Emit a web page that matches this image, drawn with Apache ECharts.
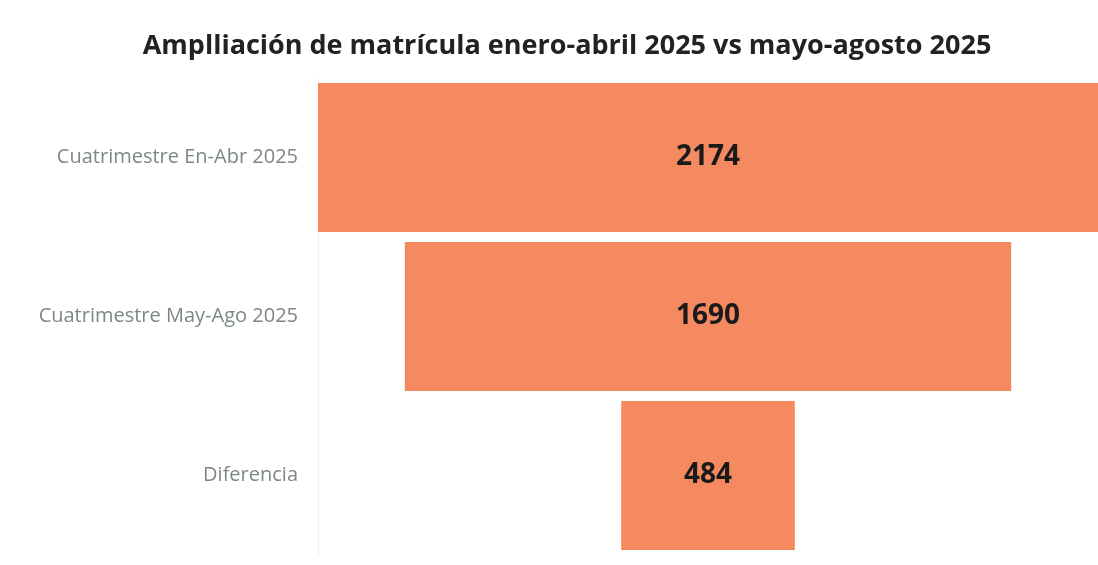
<!DOCTYPE html>
<html lang="es">
<head>
    <meta charset="UTF-8">
    <title>Ampliación de matrícula</title>
    <script src="https://cdn.jsdelivr.net/npm/echarts@6/dist/echarts.min.js"></script>
    <style>
        html, body { margin: 0; padding: 0; background: #fff; }
        #chart { width: 1098px; height: 565px; }
    </style>
</head>
<body>
<div id="chart"></div>
<script>
    // datos
    var categorias = ['Cuatrimestre En-Abr 2025', 'Cuatrimestre May-Ago 2025', 'Diferencia'];
    var valores = [2174, 1690, 484];

    var maximo = Math.max.apply(null, valores);
    // desplazamiento invisible para centrar cada barra (embudo)
    var relleno = valores.map(function (v) { return (maximo - v) / 2; });

    var myChart = echarts.init(document.getElementById('chart'));
    myChart.setOption({
        animation: false,
        title: {
            text: 'Amplliación de matrícula enero-abril 2025 vs mayo-agosto 2025',
            left: 562,
            textAlign: 'center',
            top: 28,
            textStyle: {
                fontFamily: 'Open Sans',
                fontWeight: 'bold',
                fontSize: 27,
                color: '#222'
            }
        },
        grid: {left: 318, right: 0, top: 78, bottom: 10},
        xAxis: {
            type: 'value',
            min: 0,
            max: maximo,
            show: false
        },
        yAxis: {
            type: 'category',
            inverse: true,
            data: categorias,
            axisLine: {show: true, lineStyle: {color: '#eeeeee'}},
            axisTick: {show: false},
            axisLabel: {
                margin: 20,
                fontFamily: 'Open Sans',
                fontSize: 20,
                color: '#7d8787'
            }
        },
        series: [{
            type: 'bar',
            stack: 'embudo',
            data: relleno,
            itemStyle: {color: 'transparent'},
            silent: true
        }, {
            type: 'bar',
            stack: 'embudo',
            data: valores,
            barCategoryGap: '6.3%',
            itemStyle: {color: '#F5895F'},
            label: {
                show: true,
                position: 'inside',
                fontFamily: 'Open Sans',
                fontWeight: 'bold',
                fontSize: 28,
                color: '#1a1a1a'
            }
        }]
    });
</script>
</body>
</html>
